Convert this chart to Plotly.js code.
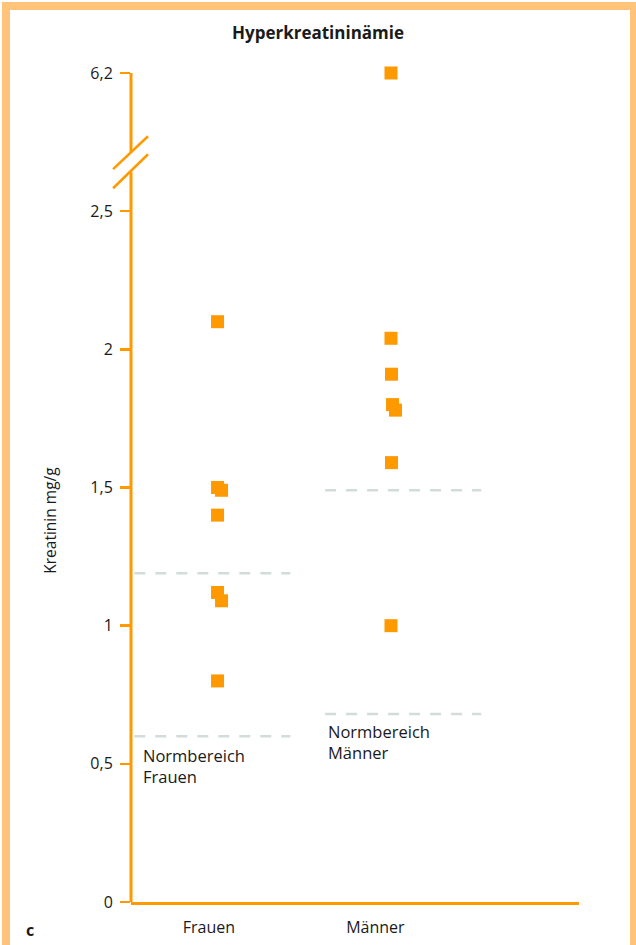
<!DOCTYPE html>
<html>
<head>
<meta charset="utf-8">
<script src="https://cdn.plot.ly/plotly-3.0.1.min.js"></script>
<style>
  html, body { margin: 0; padding: 0; background: #fff; }
  #wrap { position: relative; width: 636px; height: 945px; overflow: hidden; }
  #chart { position: absolute; left: 0; top: 0; width: 636px; height: 945px; }
  #frame { position: absolute; left: 2px; top: 2px; width: 620px; height: 960px;
           border-style: solid; border-color: #FFC47A; border-width: 8px 7px 0 8px;
           pointer-events: none; }
</style>
</head>
<body>
<div id="wrap">
  <div id="chart"></div>
  <div id="frame"></div>
</div>
<script>
// ---- data ----
const titleText = "Hyperkreatininämie";
const yTitle = "Kreatinin mg/g";
const categories = ["Frauen", "Männer"];
const frauenValues = [2.1, 1.5, 1.49, 1.4, 1.12, 1.09, 0.8];
const maennerValues = [6.2, 2.04, 1.91, 1.8, 1.78, 1.59, 1.0];
// small horizontal displacement of overlapping squares (category units)
const frauenJitter = [0, 0, 0.023, 0, 0, 0.023, 0];
const maennerJitter = [0, 0, 0.003, 0.009, 0.026, 0.003, 0];
const normLow = [0.6, 0.68];     // lower limit of normal range: Frauen, Männer
const normHigh = [1.19, 1.49];   // upper limit of normal range: Frauen, Männer
const normLabels = ["Normbereich<br>Frauen", "Normbereich<br>Männer"];
const tickValues = [0, 0.5, 1, 1.5, 2, 2.5, 6.2];
const tickLabels = ["0", "0,5", "1", "1,5", "2", "2,5", "6,2"];
const panelLetter = "c";

// ---- broken axis mapping ----
const breakFrom = 2.5;      // last value drawn on the linear part
const breakTopPos = 3.0;    // display position of the value above the break
function toDisplay(v) { return v > breakFrom ? breakTopPos : v; }

const orange = "#FF9900";
const normColor = "#D2DDDA";
const textColor = "#1a1a1a";
const font = "Open Sans, Noto Sans, sans-serif";

const catPos = [1, 2];
const traces = [];

// normal-range dashed lines
const spanLeft = [0.48, 0.38];
const spanRight = [0.42, 0.52];
for (let i = 0; i < categories.length; i++) {
  [normLow[i], normHigh[i]].forEach(v => {
    traces.push({
      type: "scatter", mode: "lines",
      x: [catPos[i] - spanLeft[i], catPos[i] + spanRight[i]],
      y: [toDisplay(v), toDisplay(v)],
      line: { color: normColor, width: 2.5, dash: "11px,10px" },
      hoverinfo: "skip", showlegend: false, cliponaxis: false
    });
  });
}

const groups = [
  { vals: frauenValues, jit: frauenJitter },
  { vals: maennerValues, jit: maennerJitter }
];
groups.forEach((g, i) => {
  traces.push({
    type: "scatter", mode: "markers",
    x: g.vals.map((v, k) => catPos[i] + g.jit[k]),
    y: g.vals.map(toDisplay),
    text: g.vals.map(v => String(v).replace(".", ",")),
    marker: { symbol: "square", size: 13, color: orange, line: { width: 0 } },
    showlegend: false, cliponaxis: false, name: categories[i]
  });
});

// y axis line with gap, plus break marks
const shapes = [
  { type: "line", xref: "paper", yref: "y", x0: 0, x1: 0, y0: 0, y1: 2.641,
    line: { color: orange, width: 3 } },
  { type: "line", xref: "paper", yref: "y", x0: 0, x1: 0, y0: 2.713, y1: breakTopPos,
    line: { color: orange, width: 3 } },
  { type: "line", xref: "paper", yref: "y", x0: -0.040, x1: 0.038, y0: 2.652, y1: 2.771,
    line: { color: orange, width: 2.5 } },
  { type: "line", xref: "paper", yref: "y", x0: -0.040, x1: 0.038, y0: 2.583, y1: 2.706,
    line: { color: orange, width: 2.5 } }
];

const annotations = [
  { text: yTitle, xref: "paper", yref: "paper", x: -0.181, y: 0.461, textangle: -90,
    xanchor: "center", yanchor: "middle",
    showarrow: false, font: { family: font, size: 15.5, color: textColor } },
  { text: normLabels[0], xref: "paper", yref: "paper", x: 0.022, y: 0.193,
    xanchor: "left", yanchor: "top", align: "left", showarrow: false,
    font: { family: font, size: 16.5, color: textColor } },
  { text: normLabels[1], xref: "paper", yref: "paper", x: 0.435, y: 0.222,
    xanchor: "left", yanchor: "top", align: "left", showarrow: false,
    font: { family: font, size: 16.5, color: textColor } },
  { text: "<b>" + panelLetter + "</b>", xref: "paper", yref: "paper", x: -0.225, y: -0.034,
    xanchor: "center", yanchor: "middle",
    showarrow: false, font: { family: font, size: 16, color: textColor } }
];

const layout = {
  width: 636, height: 945,
  margin: { l: 131, r: 57, t: 73, b: 43 },
  paper_bgcolor: "#fff", plot_bgcolor: "#fff",
  title: { text: "<b>" + titleText + "</b>", x: 0.5, xref: "container",
           y: 1 - 33 / 945, yanchor: "middle",
           font: { family: font, size: 17, color: textColor } },
  xaxis: {
    range: [0.501, 3.084], showgrid: false, zeroline: false,
    showline: true, linecolor: orange, linewidth: 3,
    tickvals: [0.95, 1.91], ticktext: categories, ticks: "",
    ticklabelstandoff: 9,
    tickfont: { family: font, size: 16, color: textColor }, fixedrange: true
  },
  yaxis: {
    range: [0, breakTopPos], showgrid: false, zeroline: false, showline: false,
    tickvals: tickValues.map(toDisplay), ticktext: tickLabels,
    ticks: "outside", ticklen: 10, tickwidth: 2.5, tickcolor: orange,
    ticklabelstandoff: 4,
    tickfont: { family: font, size: 16, color: textColor }, fixedrange: true
  },
  shapes: shapes,
  annotations: annotations,
  hovermode: "closest"
};

Plotly.newPlot("chart", traces, layout, { displayModeBar: false, staticPlot: true });
</script>
</body>
</html>
